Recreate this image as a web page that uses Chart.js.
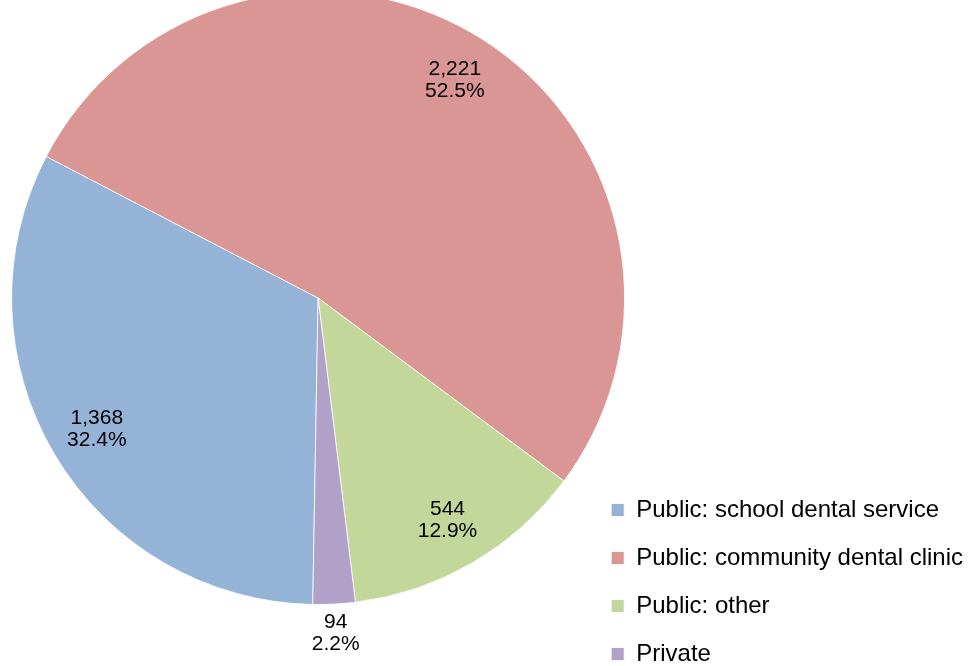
<!DOCTYPE html>
<html>
<head>
<meta charset="utf-8">
<script src="https://cdn.jsdelivr.net/npm/chart.js@4/dist/chart.umd.min.js"></script>
<style>
  html, body { margin: 0; padding: 0; background: #ffffff; overflow: hidden; width: 973px; height: 666px; }
  #wrap { position: absolute; left: 0; top: -94px; width: 973px; height: 784px; }
</style>
</head>
<body>
<div id="wrap"><canvas id="c" width="973" height="784"></canvas></div>
<script>
const categories = [
  'Public: school dental service',
  'Public: community dental clinic',
  'Public: other',
  'Private'
];
const values = [1368, 2221, 544, 94];
const colors = ['#95B3D7', '#DA9694', '#C4D79B', '#B1A0C7'];

const FONT = '"Liberation Sans", Arial, Helvetica, sans-serif';

const labelPlugin = {
  id: 'sliceLabels',
  afterDatasetsDraw(chart) {
    const ctx = chart.ctx;
    const meta = chart.getDatasetMeta(0);
    const data = chart.data.datasets[0].data;
    const total = data.reduce((a, b) => a + b, 0);
    ctx.save();
    ctx.font = '21px ' + FONT;
    ctx.fillStyle = '#000000';
    ctx.textAlign = 'center';
    ctx.textBaseline = 'middle';
    meta.data.forEach((arc, i) => {
      const p = arc.getProps(['x', 'y', 'startAngle', 'endAngle', 'outerRadius'], true);
      const share = data[i] / total;
      const mid = (p.startAngle + p.endAngle) / 2;
      const r = p.outerRadius * (share < 0.05 ? 1.096 : 0.84);
      const x = p.x + Math.cos(mid) * r;
      const y = p.y + Math.sin(mid) * r;
      ctx.fillText(data[i].toLocaleString('en-US'), x, y - 11);
      ctx.fillText((share * 100).toFixed(1) + '%', x, y + 11);
    });
    ctx.restore();
  }
};

new Chart(document.getElementById('c'), {
  type: 'pie',
  data: {
    labels: categories,
    datasets: [{
      data: values,
      backgroundColor: colors,
      borderColor: '#ffffff',
      borderWidth: 0.8,
      radius: 306.5,
      clip: false
    }]
  },
  options: {
    responsive: false,
    devicePixelRatio: 1,
    animation: false,
    rotation: 181,
    layout: { padding: { left: 49, right: 0, top: 0, bottom: 0 } },
    plugins: {
      title: { display: false },
      tooltip: { enabled: false },
      legend: {
        display: true,
        position: 'right',
        align: 'end',
        labels: {
          boxWidth: 13,
          boxHeight: 13,
          padding: 24,
          color: '#000000',
          font: { family: FONT, size: 24 }
        }
      }
    }
  },
  plugins: [labelPlugin]
});
</script>
</body>
</html>
